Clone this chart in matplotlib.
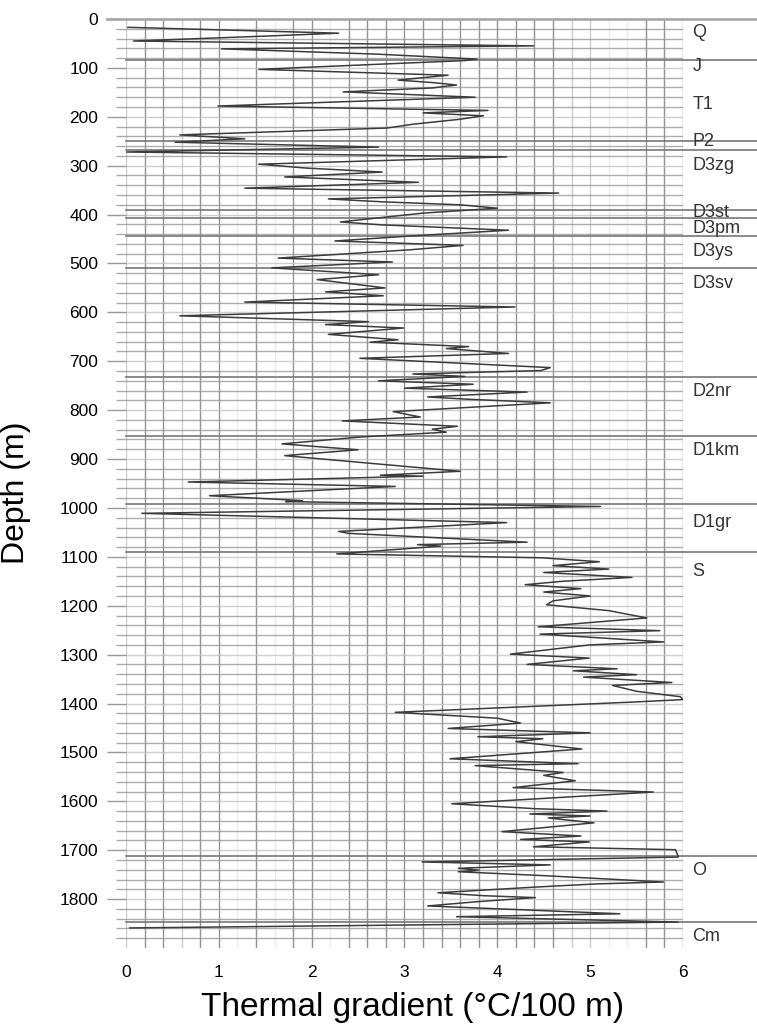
import matplotlib
matplotlib.use("Agg")
import matplotlib.pyplot as plt
import numpy as np

plt.rcParams["font.family"] = ["Liberation Sans", "DejaVu Sans"]

# thermal gradient log: depth (m) and gradient (°C/100 m)
depth = [17, 29, 35, 45, 55, 61, 72, 82, 85, 103, 115, 125, 130, 135, 141, 149, 160,
         178, 187, 192, 198, 205, 215, 223, 237, 245, 252, 262, 272, 282, 297, 305,
         313, 323, 334, 346, 356, 368, 374, 380, 387, 397, 415, 421, 432, 444, 454,
         463, 472, 489, 497, 509, 523, 533, 550, 558, 566, 579, 589, 607, 619, 625,
         632, 645, 656, 661, 670, 674, 684, 694, 713, 719, 726, 731, 740, 747, 755,
         763, 773, 778, 785, 803, 814, 822, 833, 839, 845, 855, 869, 881, 893, 898,
         925, 933, 935, 947, 956, 975, 985, 987, 997, 1011, 1030, 1048, 1052, 1070,
         1075, 1078, 1094, 1102, 1110, 1118, 1125, 1132, 1142, 1150, 1157, 1165,
         1172, 1180, 1190, 1198, 1210, 1225, 1243, 1251, 1258, 1274, 1280, 1299,
         1307, 1320, 1329, 1333, 1341, 1346, 1357, 1363, 1375, 1386, 1392, 1397,
         1418, 1430, 1440, 1451, 1460, 1468, 1472, 1478, 1493, 1513, 1523, 1527,
         1541, 1547, 1558, 1572, 1581, 1605, 1615, 1620, 1626, 1630, 1634, 1644,
         1662, 1671, 1678, 1683, 1693, 1699, 1714, 1724, 1730, 1737, 1741, 1744,
         1752, 1765, 1769, 1775, 1787, 1793, 1797, 1805, 1814, 1830, 1836, 1847, 1859]
gradient = [0.02, 2.29, 1.5, 0.08, 4.39, 1.03, 2.72, 3.78, 3.65, 1.43, 3.47, 2.93, 3.3,
            3.56, 3.3, 2.34, 3.76, 0.99, 3.9, 3.2, 3.85, 3.6, 3.1, 2.81, 0.58, 1.28,
            0.53, 2.72, 0.0, 4.1, 1.43, 1.95, 2.76, 1.71, 3.15, 1.28, 4.66, 2.18, 2.77,
            3.6, 4.0, 3.2, 2.31, 2.75, 4.12, 3.05, 2.25, 3.63, 3.06, 1.64, 2.87, 1.57,
            2.72, 2.06, 2.79, 2.15, 2.77, 1.28, 4.19, 0.58, 2.61, 2.15, 2.99, 2.18,
            2.93, 2.63, 3.69, 3.45, 4.12, 2.52, 4.57, 4.47, 3.09, 3.65, 2.72, 3.74,
            3.0, 4.32, 3.25, 3.72, 4.57, 2.88, 3.17, 2.33, 3.57, 3.3, 3.45, 2.52, 1.68,
            2.5, 1.71, 2.0, 3.6, 2.74, 3.2, 0.67, 2.9, 0.9, 1.9, 1.72, 5.11, 0.17, 4.1,
            2.29, 2.4, 4.32, 3.14, 3.39, 2.27, 4.48, 5.1, 4.6, 5.2, 4.5, 5.45, 4.7,
            4.3, 4.9, 4.5, 5.0, 4.6, 4.53, 5.2, 5.61, 4.44, 5.75, 4.46, 5.79, 5.0,
            4.14, 4.99, 4.32, 5.29, 4.82, 5.5, 4.93, 5.88, 5.24, 5.5, 5.97, 6.0, 5.46,
            2.9, 4.0, 4.25, 3.47, 5.0, 3.79, 4.49, 4.2, 4.91, 3.49, 4.87, 3.76, 4.71,
            4.5, 4.84, 4.17, 5.68, 3.51, 4.4, 5.18, 4.35, 5.0, 4.55, 5.04, 4.05, 4.9,
            4.25, 4.99, 4.39, 5.92, 5.95, 3.19, 4.57, 3.58, 3.8, 3.58, 4.5, 5.79, 5.06,
            4.45, 3.36, 3.85, 4.41, 3.8, 3.25, 5.32, 3.56, 5.95, 0.04]

# stratigraphy: boundary depths and unit labels with label depth
boundaries = [84, 250, 268, 391, 407, 444, 509, 732, 853, 992, 1090, 1712, 1847]
units = ["Q", "J", "T1", "P2", "D3zg", "D3st", "D3pm", "D3ys", "D3sv",
         "D2nr", "D1km", "D1gr", "S", "O", "Cm"]
unit_label_depth = [27, 98, 174, 250, 299, 395, 429, 476, 540,
                    761, 883, 1029, 1129, 1742, 1877]

fig = plt.figure(figsize=(7.57, 10.24), dpi=100)
ax = fig.add_axes([126 / 757, 1 - 948 / 1024, 557 / 757, 929 / 1024])

# vertical grid every 0.2, some of them faint like in the scan
faint = {0.0, 0.6, 4.8, 5.0}
very_faint = {1.2, 1.6, 2.2, 5.2, 5.4}
for xv in np.round(np.arange(0, 6.01, 0.2), 1):
    if xv in very_faint:
        c, a = "#cccccc", 0.35
    elif xv in faint:
        c, a = "#aaaaaa", 0.6
    else:
        c, a = "#808080", 0.85
    ax.axvline(xv, color=c, alpha=a, lw=1.0, zorder=1)

# horizontal grid every 20 m
for yv in range(20, 1881, 20):
    c = "#c4c4c4" if yv % 100 == 0 else "#999999"
    ax.axhline(yv, color=c, lw=1.0, alpha=0.8, zorder=1)

# formation boundaries run out into the label column
ax.axhline(0, xmin=-0.035, xmax=1.135, color="#aaaaaa", lw=2.0, clip_on=False, zorder=2)
for b in boundaries:
    ax.axhline(b, xmin=0, xmax=1.135, color="#777777", lw=1.2, clip_on=False, zorder=2)

for name, d in zip(units, unit_label_depth):
    ax.text(6.1, d, name, fontsize=13, color="#333333", ha="left", va="center",
            clip_on=False)

ax.plot(gradient, depth, color="#3c3c3c", lw=1.1, zorder=3)

ax.set_xlim(0, 6)
ax.set_ylim(1900, 0)
for s in ax.spines.values():
    s.set_visible(False)

ax.set_xticks(range(7))
ax.tick_params(axis="x", length=0, pad=12, labelsize=12.5)
ax.set_yticks(range(0, 1801, 100))
ax.set_yticks(range(0, 1881, 20), minor=True)
ax.tick_params(axis="y", which="major", length=14, width=1.0, color="#999999",
               pad=6, labelsize=12.5)
ax.tick_params(axis="y", which="minor", length=7, width=1.0, color="#aaaaaa")

ax.set_xlabel("Thermal gradient (°C/100 m)", fontsize=24)
ax.set_ylabel("Depth (m)", fontsize=23)
ax.xaxis.set_label_coords(0.515, -0.047)
ax.yaxis.set_label_coords(-0.17, 0.49)

fig.savefig("out.png", dpi=100)
